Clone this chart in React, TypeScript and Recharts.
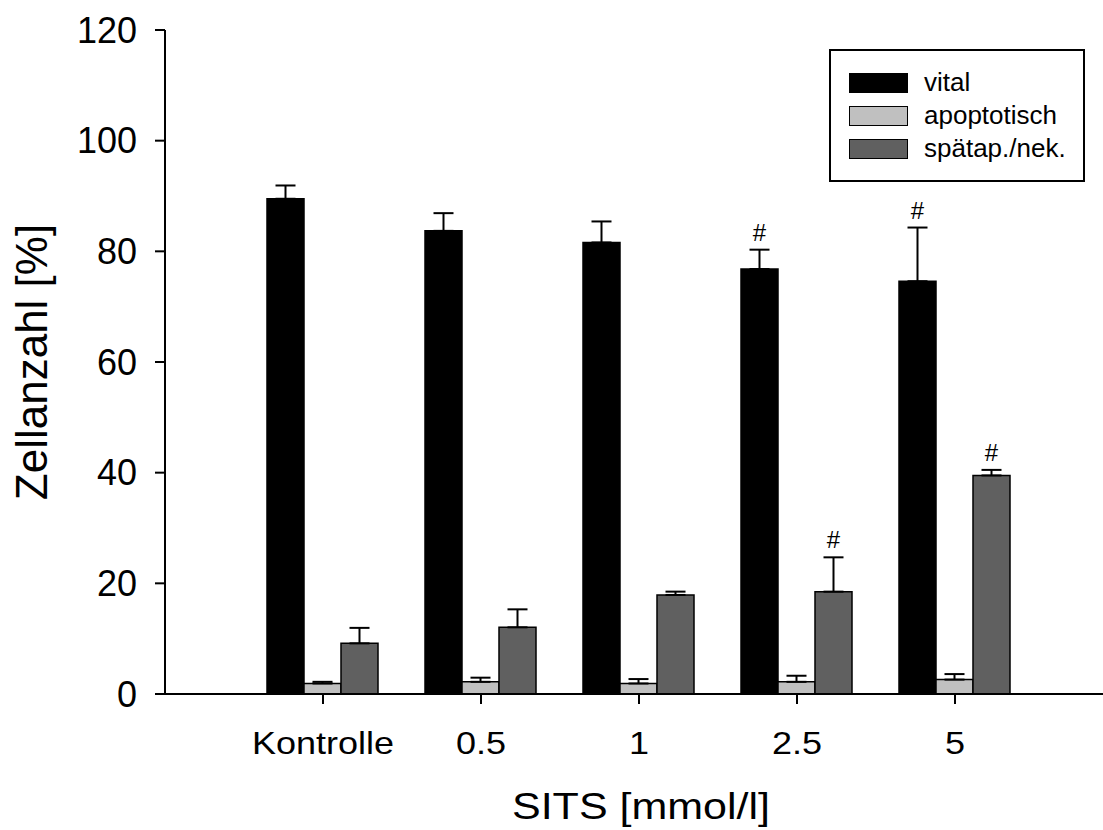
import { BarChart, Bar, XAxis, YAxis, ErrorBar, LabelList, Legend } from "recharts";

const categories = ["Kontrolle", "0.5", "1", "2.5", "5"];
const vital = [89.5, 83.7, 81.6, 76.8, 74.6];
const vitalErr = [2.4, 3.2, 3.8, 3.5, 9.7];
const vitalSig = [false, false, false, true, true];
const apopt = [1.9, 2.2, 1.9, 2.2, 2.6];
const apoptErr = [0.3, 0.75, 0.8, 1.1, 1.0];
const apoptSig = [false, false, false, false, false];
const spaet = [9.15, 12.05, 17.9, 18.5, 39.5];
const spaetErr = [2.8, 3.25, 0.6, 6.2, 1.0];
const spaetSig = [false, false, false, true, true];
const yTicks = [0, 20, 40, 60, 80, 100, 120];

const FONT = "'Liberation Sans', Arial, Helvetica, sans-serif";

const data = categories.map((name, i) => ({
  name,
  vital: vital[i],
  vitalErr: [0, vitalErr[i]],
  apopt: apopt[i],
  apoptErr: [0, apoptErr[i]],
  spaet: spaet[i],
  spaetErr: [0, spaetErr[i]],
}));

const series = [
  { key: "vital", name: "vital", color: "#000000", err: vitalErr, sig: vitalSig },
  { key: "apopt", name: "apoptotisch", color: "#c0c0c0", err: apoptErr, sig: apoptSig },
  { key: "spaet", name: "spätap./nek.", color: "#606060", err: spaetErr, sig: spaetSig },
];

function hashLabel(err: number[], sig: boolean[]) {
  return (p: any) => {
    const vb = p.viewBox || p;
    const i = p.index;
    if (i == null || !sig[i]) return null;
    const x = vb.x + vb.width / 2;
    const perUnit = vb.height / Number(p.value);
    const capY = vb.y - err[i] * perUnit;
    return (
      <text x={x} y={capY - 9} textAnchor="middle" fontSize={24} fontFamily={FONT} fill="#000">
        #
      </text>
    );
  };
}

// x labels in the original are a bit wider than tall
function XTick(props: any) {
  const { x, y, payload } = props;
  return (
    <text
      transform={`translate(${x}, ${y + 48}) scale(1, 0.87)`}
      textAnchor="middle"
      fontSize={36}
      fontFamily={FONT}
      fill="#000"
    >
      {payload.value}
    </text>
  );
}

function LegendBox() {
  return (
    <div
      style={{
        width: 256,
        height: 133,
        border: "2px solid #000",
        background: "#fff",
        fontFamily: FONT,
        fontSize: 26,
        boxSizing: "border-box",
        paddingTop: 15,
        paddingLeft: 18,
      }}
    >
      {series.map((s) => (
        <div key={s.key} style={{ display: "flex", alignItems: "center", height: 33 }}>
          <div
            style={{
              width: 59,
              height: 20,
              boxSizing: "border-box",
              background: s.color,
              border: "1.5px solid #000",
              marginRight: 16,
            }}
          />
          <span style={{ lineHeight: "33px" }}>{s.name}</span>
        </div>
      ))}
    </div>
  );
}

export default function App() {
  return (
    <div style={{ position: "absolute", left: 0, top: 0, width: 1103, height: 830, overflow: "hidden", background: "#fff" }}>
      <BarChart
        width={1120}
        height={830}
        data={data}
        margin={{ top: 30, right: 7, bottom: 0, left: 0 }}
        barGap={0}
        barCategoryGap={23}
      >
        <XAxis
          dataKey="name"
          padding={{ left: 79, right: 79 }}
          height={136}
          tickSize={10}
          tick={<XTick />}
          axisLine={{ stroke: "#000", strokeWidth: 2 }}
          tickLine={{ stroke: "#000", strokeWidth: 2 }}
          label={(props: any) => {
            const vb = props.viewBox;
            const cx = vb.x + vb.width / 2 + 2;
            const cy = vb.y + 125;
            return (
              <text
                transform={`translate(${cx}, ${cy}) scale(1, 0.87)`}
                textAnchor="middle"
                fontSize={43}
                fontFamily={FONT}
                fill="#000"
              >
                SITS [mmol/l]
              </text>
            );
          }}
        />
        <XAxis xAxisId="top" orientation="top" dataKey="name" height={0} tick={false} tickLine={false} axisLine={{ stroke: "#000", strokeWidth: 2 }} />
        <YAxis
          domain={[0, 120]}
          ticks={yTicks}
          width={165}
          tickSize={10}
          tickMargin={18}
          tick={{ fontSize: 36, fontFamily: FONT, fill: "#000" }}
          axisLine={{ stroke: "#000", strokeWidth: 2 }}
          tickLine={{ stroke: "#000", strokeWidth: 2 }}
          label={(props: any) => {
            const vb = props.viewBox;
            const cx = vb.x + 31;
            const cy = vb.y + vb.height / 2;
            return (
              <text
                x={cx}
                y={cy}
                transform={`rotate(-90, ${cx}, ${cy})`}
                textAnchor="middle"
                dominantBaseline="central"
                fontSize={44}
                fontFamily={FONT}
                fill="#000"
              >
                Zellanzahl [%]
              </text>
            );
          }}
        />
        <YAxis yAxisId="right" orientation="right" domain={[0, 120]} width={0} tick={false} tickLine={false} axisLine={{ stroke: "#000", strokeWidth: 2 }} />
        <Legend
          layout="horizontal"
          verticalAlign="middle"
          align="center"
          content={() => <LegendBox />}
          wrapperStyle={{ position: "absolute", left: 829, top: 49, right: "auto", bottom: "auto", width: "auto", margin: 0 }}
        />
        {series.map((s) => (
          <Bar
            key={s.key}
            dataKey={s.key}
            name={s.name}
            fill={s.color}
            stroke="#000"
            strokeWidth={1.5}
            isAnimationActive={false}
          >
            <ErrorBar dataKey={`${s.key}Err`} width={10} stroke="#000" strokeWidth={2} direction="y" />
            <LabelList dataKey={s.key} content={hashLabel(s.err, s.sig)} />
          </Bar>
        ))}
      </BarChart>
    </div>
  );
}
